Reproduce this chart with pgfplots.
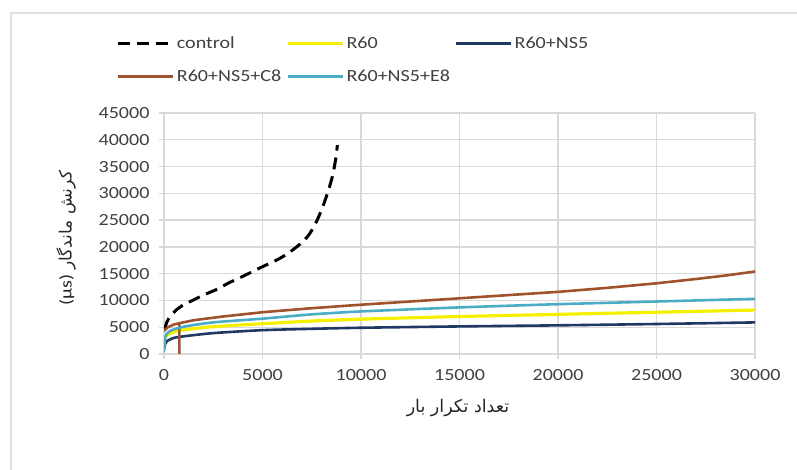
\documentclass[border=0pt]{standalone}
\usepackage{fontspec}
\setmainfont{Carlito}[FakeStretch=1.18]
\newfontfamily\arabicfont[Script=Arabic]{DejaVu Sans}
\TeXXeTstate=1
\usepackage{pgfplots}
\pgfplotsset{compat=1.18}
\definecolor{cgrid}{HTML}{D9D9D9}
\definecolor{cyel}{HTML}{F5F000}
\definecolor{cnavy}{HTML}{1F3864}
\definecolor{cbrown}{HTML}{A0522D}
\definecolor{cblue}{HTML}{4BACC6}
\definecolor{ctext}{HTML}{404040}
\begin{document}
\begin{tikzpicture}[x=1pt,y=1pt]
\path[use as bounding box] (0,0) rectangle (797,470);
\draw[black!12, line width=2pt] (11,-5) -- (11,457) -- (802,457);
\begin{axis}[
  at={(164pt,116pt)}, anchor=south west,
  scale only axis, width=591pt, height=241pt,
  xmin=0, xmax=30000, ymin=0, ymax=45000,
  xtick={0,5000,...,30000}, ytick={0,5000,...,45000},
  scaled ticks=false,
  /pgf/number format/.cd, 1000 sep={}, assume math mode=true, /pgfplots/.cd,
  grid=major, major grid style={cgrid, line width=1.3pt},
  axis lines*=left, axis line style={cgrid, line width=1.3pt},
  tick align=outside, major tick length=5pt, tick style={cgrid, line width=1.3pt},
  ticklabel style={font=\fontsize{17}{20}\selectfont, text=ctext},
  y tick label style={xshift=-6pt},
  x tick label style={yshift=-7pt},
  legend columns=3,
  legend cell align=left,
  legend style={draw=none, fill=none, at={(axis description cs:-0.08,1.325)}, anchor=north west,
    font=\fontsize{17}{20}\selectfont, text=ctext, inner sep=0pt,
    /tikz/every even column/.append style={column sep=3pt}, row sep=16pt},
  legend image code/.code={\draw[#1] (0pt,0pt) -- (55pt,0pt);},
]
\addplot[black, line width=3pt, dash pattern=on 12pt off 7pt, smooth, tension=0.4] coordinates {
 (30,4600) (150,6000) (350,7200) (650,8300) (1000,9200) (1500,10100) (2000,11000) (2700,12100)
 (3300,13300) (4000,14500) (5000,16300) (5700,17500) (6300,18800) (6900,20500) (7300,22000)
 (7550,23400) (7800,25200) (8050,27400) (8250,29500) (8400,31200) (8550,33200) (8650,35000)
 (8740,37000) (8800,39000)};
\addlegendentry{control}
\addplot[cyel, line width=3.2pt, smooth, tension=0.4] coordinates {
 (0,1800) (50,2800) (150,3500) (500,4100) (1000,4500) (2500,5100) (5000,5650)
 (7500,6150) (10000,6500) (15000,7000) (20000,7400) (25000,7800) (30000,8200)};
\addlegendentry{R60}
\addplot[cnavy, line width=2.6pt, smooth, tension=0.4] coordinates {
 (0,900) (50,1800) (150,2400) (500,3000) (1000,3300) (2500,3900) (5000,4450)
 (7500,4700) (10000,4900) (15000,5150) (20000,5350) (25000,5600) (30000,5900)};
\addlegendentry{R60+NS5}
\addplot[cbrown, line width=2.6pt] coordinates {
 (0,4300) (200,5000) (500,5500) (780,5750) (780,0) (780,5750) (1500,6300) (3000,7000)
 (5000,7800) (7500,8550) (10000,9200) (12500,9800) (15000,10400) (17500,11000) (20000,11600)
 (22500,12350) (25000,13200) (27000,14000) (28500,14650) (30000,15400)};
\addlegendentry{R60+NS5+C8}
\addplot[cblue, line width=2.6pt, smooth, tension=0.4] coordinates {
 (0,300) (40,2500) (100,3500) (300,4300) (1000,5100) (2500,5900) (5000,6600)
 (7500,7400) (10000,7950) (15000,8700) (20000,9300) (25000,9800) (30000,10300)};
\addlegendentry{R60+NS5+E8}
\end{axis}
\node[rotate=90, font=\fontsize{17}{20}\selectfont, text=black!85] at (66,232)
  {(µs) {\arabicfont\beginR کرنش ماندگار\endR}};
\node[font=\fontsize{17.5}{20}\selectfont, text=black!85] at (458,62)
  {\arabicfont\beginR تعداد تکرار بار\endR};
\end{tikzpicture}
\end{document}
